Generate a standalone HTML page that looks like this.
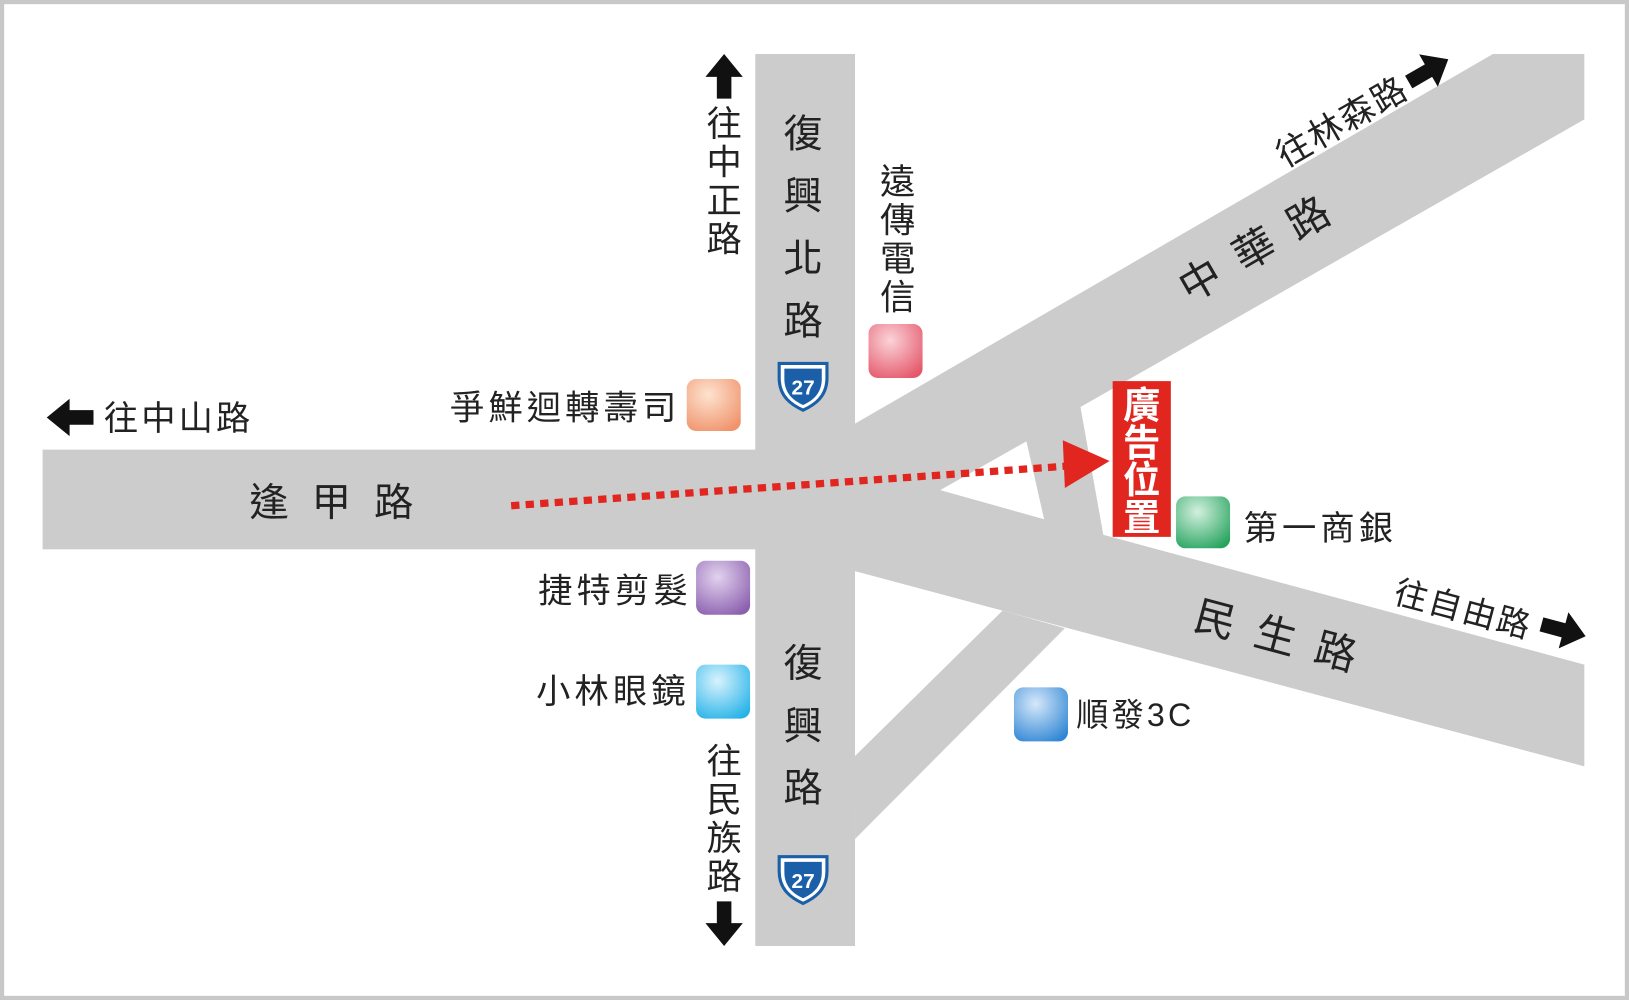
<!DOCTYPE html>
<html><head><meta charset="utf-8"><style>
html,body{margin:0;padding:0;background:#fff}
svg{display:block}
text{font-family:"Liberation Sans","Noto Sans CJK TC",sans-serif;fill:#222}
</style></head><body>
<svg width="1629" height="1000" viewBox="0 0 1568 963" preserveAspectRatio="none" xmlns="http://www.w3.org/2000/svg">
<defs>
<radialGradient id="go" cx="40%" cy="30%" r="80%"><stop offset="0" stop-color="#fde3d0"/><stop offset="1" stop-color="#f0926a"/></radialGradient>
<radialGradient id="gp" cx="40%" cy="30%" r="80%"><stop offset="0" stop-color="#fbd3d8"/><stop offset="1" stop-color="#e4576a"/></radialGradient>
<radialGradient id="gv" cx="40%" cy="30%" r="80%"><stop offset="0" stop-color="#e2d2ee"/><stop offset="1" stop-color="#8a5fae"/></radialGradient>
<radialGradient id="gc" cx="40%" cy="30%" r="80%"><stop offset="0" stop-color="#d8f3fd"/><stop offset="1" stop-color="#26b2e8"/></radialGradient>
<radialGradient id="gb" cx="40%" cy="30%" r="80%"><stop offset="0" stop-color="#d6e8fa"/><stop offset="1" stop-color="#2f86d4"/></radialGradient>
<radialGradient id="gg" cx="40%" cy="30%" r="80%"><stop offset="0" stop-color="#d2f0de"/><stop offset="1" stop-color="#26a35e"/></radialGradient>
</defs>
<rect x="2" y="2" width="1564" height="959" fill="#fff" stroke="#c8c8c8" stroke-width="4"/>
<g fill="#cccccc">
<rect x="41" y="433" width="870" height="96"/>
<rect x="727" y="52" width="96" height="859"/>
<polygon points="823,408 1437,52 1525,52 1525,115 1040,392 1062,515 1525,640 1525,738 823,550 823,433"/>
<polygon points="823,728 965,588 1025,605 823,808"/>
</g>
<polygon points="905,472 988,425 1005,500" fill="#fff"/>
<line x1="492" y1="487" x2="1025" y2="449" stroke="#e0261f" stroke-width="7" stroke-dasharray="8,6"/>
<polygon points="1023,424 1068,444 1025,470" fill="#e0261f"/>
<rect x="1071" y="367" width="56" height="150" fill="#e0261f"/>
<g font-size="36" font-weight="bold" text-anchor="middle">
<text x="1099" y="403" style="fill:#fff">廣</text><text x="1099" y="439" style="fill:#fff">告</text><text x="1099" y="475" style="fill:#fff">位</text><text x="1099" y="511" style="fill:#fff">置</text>
</g>
<rect x="661" y="365" width="52" height="50" rx="9" fill="url(#go)"/>
<rect x="836" y="312" width="52" height="52" rx="9" fill="url(#gp)"/>
<rect x="670" y="540" width="52" height="52" rx="9" fill="url(#gv)"/>
<rect x="670" y="640" width="52" height="52" rx="9" fill="url(#gc)"/>
<rect x="976" y="662" width="52" height="52" rx="9" fill="url(#gb)"/>
<rect x="1132" y="478" width="52" height="50" rx="9" fill="url(#gg)"/>
<g>
<path d="M750,350 h46 v14 c0,18 -12,26 -23,31 c-11,-5 -23,-13 -23,-31z" fill="#fff" stroke="#1a5fa8" stroke-width="3"/>
<path d="M755,355 h36 v10 c0,14 -9,21 -18,25 c-9,-4 -18,-11 -18,-25z" fill="#1a5fa8"/>
<text x="773" y="380" font-size="20" font-weight="bold" text-anchor="middle" style="fill:#fff">27</text>
<path d="M750,825 h46 v14 c0,18 -12,26 -23,31 c-11,-5 -23,-13 -23,-31z" fill="#fff" stroke="#1a5fa8" stroke-width="3"/>
<path d="M755,830 h36 v10 c0,14 -9,21 -18,25 c-9,-4 -18,-11 -18,-25z" fill="#1a5fa8"/>
<text x="773" y="855" font-size="20" font-weight="bold" text-anchor="middle" style="fill:#fff">27</text>
</g>
<g fill="#111">
<polygon points="697,52 715,74 704,74 704,95 690,95 690,74 679,74"/>
<polygon points="697,911 715,889 704,889 704,868 690,868 690,889 679,889"/>
<polygon points="45,402 67,384 67,395 90,395 90,409 67,409 67,420"/>
<g transform="translate(1375,68) rotate(-30)"><polygon points="22,0 0,-18 0,-7 -22,-7 -22,7 0,7 0,18"/></g>
<g transform="translate(1505,607) rotate(15)"><polygon points="22,0 0,-18 0,-7 -22,-7 -22,7 0,7 0,18"/></g>
</g>
<g font-size="34" text-anchor="middle">
<text x="697" y="131">往</text><text x="697" y="168">中</text><text x="697" y="205">正</text><text x="697" y="242">路</text>
<text x="697" y="745">往</text><text x="697" y="782">民</text><text x="697" y="819">族</text><text x="697" y="856">路</text>
<text x="864" y="187">遠</text><text x="864" y="224">傳</text><text x="864" y="261">電</text><text x="864" y="298">信</text>
</g>
<g font-size="38" text-anchor="middle">
<text x="773" y="142">復</text><text x="773" y="202">興</text><text x="773" y="262">北</text><text x="773" y="322">路</text>
<text x="773" y="652">復</text><text x="773" y="712">興</text><text x="773" y="772">路</text>
</g>
<text x="240" y="497" font-size="38" letter-spacing="22">逢甲路</text>
<text x="100" y="414" font-size="33" letter-spacing="3">往中山路</text>
<text x="655" y="404" font-size="33" text-anchor="end" letter-spacing="4">爭鮮迴轉壽司</text>
<text x="666" y="580" font-size="33" text-anchor="end" letter-spacing="4">捷特剪髮</text>
<text x="664" y="677" font-size="33" text-anchor="end" letter-spacing="4">小林眼鏡</text>
<text x="1036" y="699" font-size="31" letter-spacing="3">順發3C</text>
<text x="1197" y="520" font-size="33" letter-spacing="4">第一商銀</text>
<text transform="translate(1145,292) rotate(-30)" font-size="40" letter-spacing="20">中華路</text>
<text transform="translate(1237,162) rotate(-30)" font-size="33" letter-spacing="2">往林森路</text>
<text transform="translate(1147,605) rotate(15)" font-size="40" letter-spacing="20">民生路</text>
<text transform="translate(1340,580) rotate(15)" font-size="32" letter-spacing="2">往自由路</text>
</svg>
</body></html>
